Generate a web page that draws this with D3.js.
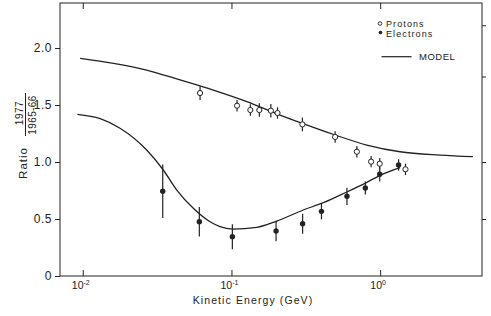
<!DOCTYPE html>
<html>
<head>
<meta charset="utf-8">
<script src="https://cdn.jsdelivr.net/npm/d3@7"></script>
<style>
  body { margin: 0; background: #fff; }
  text { font-family: "Liberation Sans", Arial, sans-serif; fill: #222; }
</style>
</head>
<body>
<div id="chart"></div>
<script>
// proton ratio points (open circles)
const protonE   = [0.0615, 0.109, 0.134, 0.154, 0.184, 0.204, 0.30, 0.498, 0.697, 0.869, 0.993, 1.48]
const protonR   = [1.605, 1.494, 1.456, 1.456, 1.45, 1.43, 1.33, 1.22, 1.09, 1.003, 0.985, 0.936]
const protonErr = [0.06, 0.05, 0.05, 0.06, 0.06, 0.05, 0.06, 0.05, 0.05, 0.05, 0.05, 0.05]

// electron ratio points (filled circles)
const electronE   = [0.0345, 0.0608, 0.1014, 0.1995, 0.301, 0.403, 0.598, 0.795, 0.993, 1.33]
const electronR   = [0.743, 0.476, 0.345, 0.395, 0.459, 0.567, 0.699, 0.772, 0.892, 0.974]
const electronErr = [0.235, 0.13, 0.11, 0.09, 0.088, 0.07, 0.076, 0.057, 0.063, 0.05]

// model curves
const modelPE = [0.0096, 0.0161, 0.0269, 0.0451, 0.0755, 0.1268, 0.2123, 0.30, 0.498, 0.813, 1.361, 2.53, 4.20]
const modelPR = [1.91, 1.866, 1.807, 1.72, 1.63, 1.529, 1.412, 1.339, 1.237, 1.149, 1.09, 1.061, 1.047]
const modelEE = [0.0092, 0.0131, 0.0178, 0.0269, 0.0348, 0.0429, 0.0554, 0.0718, 0.0838, 0.1014, 0.148, 0.2018, 0.304, 0.415, 0.596, 0.813, 1.0, 1.36]
const modelER = [1.418, 1.38, 1.296, 1.105, 0.93, 0.754, 0.594, 0.476, 0.433, 0.412, 0.427, 0.482, 0.579, 0.643, 0.737, 0.822, 0.883, 0.95]

const yTicks = [0, 0.5, 1.0, 1.5, 2.0]
const yTickLabels = ["0", "0.5", "1.0", "1.5", "2.0"]
const xTicks = [0.01, 0.1, 1]
const xTickExp = ["-2", "-1", "0"]
const rightTicks = [2.2, 1.75, 1.0, 0.5]

const W = 491, H = 316
const margin = {top: 3, right: 9, bottom: 40, left: 60},
  width = W - margin.left - margin.right,
  height = H - margin.top - margin.bottom;

const svg = d3.select("#chart")
  .append("svg")
  .attr("width", W)
  .attr("height", H)
    .append("g")
    .attr("transform", `translate(${margin.left}, ${margin.top})`);

const x = d3.scaleLog().domain([0.00703, 4.84]).range([0, width])
const y = d3.scaleLinear().domain([0, 2.395]).range([height, 0])

const ink = "#222"

// frame
svg.append("rect")
  .attr("width", width).attr("height", height)
  .attr("fill", "none").attr("stroke", ink).attr("stroke-width", 1)

// left axis, ticks outward
svg.append("g")
  .call(d3.axisLeft(y).tickValues(yTicks).tickSize(5).tickPadding(3)
    .tickFormat((d, i) => yTickLabels[i]))
  .call(g => g.select(".domain").remove())
  .call(g => g.selectAll("line").attr("stroke", ink))
  .call(g => g.selectAll("text").attr("font-size", 12).attr("font-family", null).attr("fill", ink)
    .style("letter-spacing", "0.5px"))

// right axis ticks
svg.append("g")
  .attr("transform", `translate(${width},0)`)
  .call(d3.axisRight(y).tickValues(rightTicks).tickSize(4).tickFormat(""))
  .call(g => g.select(".domain").remove())
  .call(g => g.selectAll("line").attr("stroke", ink))

// bottom ticks inward
svg.append("g")
  .attr("transform", `translate(0,${height})`)
  .call(d3.axisBottom(x).tickValues(xTicks).tickSize(-6).tickFormat(""))
  .call(g => g.select(".domain").remove())
  .call(g => g.selectAll("line").attr("stroke", ink))

// top ticks inward
svg.append("g")
  .call(d3.axisTop(x).tickValues(xTicks).tickSize(-6).tickFormat(""))
  .call(g => g.select(".domain").remove())
  .call(g => g.selectAll("line").attr("stroke", ink))

// x tick labels 10^n
const xl = svg.append("g").selectAll("text")
  .data(xTicks)
  .join("text")
  .attr("x", d => x(d) - 2)
  .attr("y", height + 13)
  .attr("text-anchor", "middle")
  .attr("font-size", 10.5)
xl.append("tspan").text("10")
xl.append("tspan").attr("dy", -4).attr("font-size", 7).text((d, i) => xTickExp[i])

// x title
svg.append("text")
  .attr("x", 193).attr("y", height + 28)
  .attr("text-anchor", "middle")
  .attr("font-size", 10.5)
  .style("letter-spacing", "1.1px")
  .text("Kinetic Energy (GeV)")

// y title: Ratio  1977 / 1965-66
const yt = svg.append("g").attr("transform", `translate(${-margin.left},0)`)
yt.append("text")
  .attr("transform", "translate(27,160) rotate(-90)")
  .attr("text-anchor", "middle")
  .attr("font-size", 11.5)
  .style("letter-spacing", "1px")
  .text("Ratio")
yt.append("text")
  .attr("transform", "translate(22.5,110) rotate(-90)")
  .attr("text-anchor", "middle")
  .attr("font-size", 10)
  .style("letter-spacing", "0.5px")
  .text("1977")
yt.append("line")
  .attr("x1", 25.5).attr("x2", 25.5)
  .attr("y1", 90).attr("y2", 133)
  .attr("stroke", ink).attr("stroke-width", 1)
yt.append("text")
  .attr("transform", "translate(35.5,112) rotate(-90)")
  .attr("text-anchor", "middle")
  .attr("font-size", 10)
  .style("letter-spacing", "0.4px")
  .text("1965-66")

// model curves
const line = d3.line()
  .x(d => x(d[0]))
  .y(d => y(d[1]))
  .curve(d3.curveMonotoneX)

svg.append("path")
  .datum(d3.zip(modelPE, modelPR))
  .attr("d", line)
  .attr("fill", "none").attr("stroke", ink).attr("stroke-width", 1.3)

svg.append("path")
  .datum(d3.zip(modelEE, modelER))
  .attr("d", line)
  .attr("fill", "none").attr("stroke", ink).attr("stroke-width", 1.3)

// error bars
const protons = d3.zip(protonE, protonR, protonErr)
const electrons = d3.zip(electronE, electronR, electronErr)

svg.append("g")
  .selectAll("line")
  .data(protons.concat(electrons))
  .join("line")
  .attr("x1", d => x(d[0])).attr("x2", d => x(d[0]))
  .attr("y1", d => y(d[1] + d[2])).attr("y2", d => y(d[1] - d[2]))
  .attr("stroke", ink).attr("stroke-width", 1.2)

svg.append("g")
  .selectAll("circle")
  .data(protons)
  .join("circle")
  .attr("cx", d => x(d[0])).attr("cy", d => y(d[1]))
  .attr("r", 2.6)
  .attr("fill", "#fff").attr("stroke", ink).attr("stroke-width", 1)

svg.append("g")
  .selectAll("circle")
  .data(electrons)
  .join("circle")
  .attr("cx", d => x(d[0])).attr("cy", d => y(d[1]))
  .attr("r", 2.7)
  .attr("fill", ink)

// legend
const lg = svg.append("g").attr("transform", `translate(${380 - margin.left},0)`)
lg.append("circle").attr("cx", 0).attr("cy", 20.5).attr("r", 1.8)
  .attr("fill", "#fff").attr("stroke", ink).attr("stroke-width", 0.9)
lg.append("text").attr("x", 6).attr("y", 24).attr("font-size", 9)
  .style("letter-spacing", "1.1px").text("Protons")
lg.append("circle").attr("cx", 0.5).attr("cy", 29.5).attr("r", 1.8).attr("fill", ink)
lg.append("text").attr("x", 6).attr("y", 33.5).attr("font-size", 9)
  .style("letter-spacing", "1.1px").text("Electrons")
lg.append("line").attr("x1", 1.5).attr("x2", 31.5).attr("y1", 53.7).attr("y2", 53.7)
  .attr("stroke", ink).attr("stroke-width", 1.2)
lg.append("text").attr("x", 39).attr("y", 57).attr("font-size", 9.5)
  .style("letter-spacing", "0.5px").text("MODEL")
</script>
</body>
</html>
